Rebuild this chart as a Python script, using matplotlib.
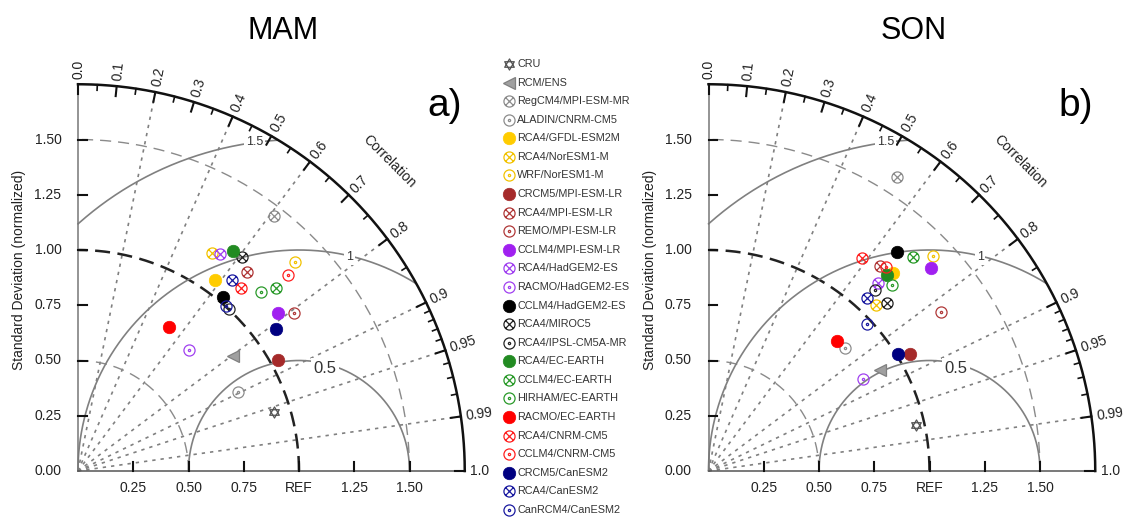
import numpy as np
import matplotlib.pyplot as plt
from matplotlib.path import Path

plt.rcParams['font.family'] = ['Liberation Sans', 'DejaVu Sans']

# ---- data -------------------------------------------------------------
names = ["CRU", "RCM/ENS", "RegCM4/MPI-ESM-MR", "ALADIN/CNRM-CM5", "RCA4/GFDL-ESM2M",
         "RCA4/NorESM1-M", "WRF/NorESM1-M", "CRCM5/MPI-ESM-LR", "RCA4/MPI-ESM-LR",
         "REMO/MPI-ESM-LR", "CCLM4/MPI-ESM-LR", "RCA4/HadGEM2-ES", "RACMO/HadGEM2-ES",
         "CCLM4/HadGEM2-ES", "RCA4/MIROC5", "RCA4/IPSL-CM5A-MR", "RCA4/EC-EARTH",
         "CCLM4/EC-EARTH", "HIRHAM/EC-EARTH", "RACMO/EC-EARTH", "RCA4/CNRM-CM5",
         "CCLM4/CNRM-CM5", "CRCM5/CanESM2", "RCA4/CanESM2", "CanRCM4/CanESM2"]
kinds = ["star", "tri", "x", "dot", "fill", "x", "dot", "fill", "x", "dot", "fill", "x", "dot",
         "fill", "x", "dot", "fill", "x", "dot", "fill", "x", "dot", "fill", "x", "dot"]
colors = ["#555555", "#808080", "#8c8c8c", "#8c8c8c", "#FFCC00", "#F2C200", "#F2C200",
          "#A52A2A", "#B03838", "#B03838", "#A020F0", "#A040F0", "#A040F0",
          "#000000", "#222222", "#222222", "#228B22", "#2A9A2A", "#2A9A2A",
          "#FF0000", "#FF2020", "#FF2020", "#000080", "#1a1aa0", "#1a1aa0"]

# normalized standard deviation and correlation
mam_std = [0.927, 0.873, 1.455, 0.809, 1.064, 1.156, 1.362, 1.038, 1.181, 1.211, 1.154, 1.174,
           0.745, 1.025, 1.221, 1.004, 1.220, 1.219, 1.159, 0.772, 1.107, 1.301, 1.102, 1.111, 1.003]
mam_cor = [0.957, 0.803, 0.610, 0.896, 0.584, 0.523, 0.721, 0.874, 0.646, 0.807, 0.786, 0.548,
           0.677, 0.642, 0.607, 0.682, 0.576, 0.735, 0.714, 0.534, 0.665, 0.732, 0.811, 0.626, 0.666]
son_std = [0.962, 0.901, 1.581, 0.831, 1.222, 1.066, 1.405, 1.054, 1.210, 1.274, 1.361, 1.147,
           0.814, 1.309, 1.107, 1.113, 1.200, 1.340, 1.181, 0.829, 1.186, 1.223, 1.009, 1.060, 0.977]
son_cor = [0.976, 0.862, 0.539, 0.745, 0.682, 0.710, 0.722, 0.865, 0.641, 0.826, 0.739, 0.670,
           0.858, 0.653, 0.728, 0.677, 0.674, 0.692, 0.702, 0.703, 0.585, 0.657, 0.851, 0.675, 0.733]

corr_major = [0.0, 0.1, 0.2, 0.3, 0.4, 0.5, 0.6, 0.7, 0.8, 0.9, 0.95, 0.99, 1.0]
corr_labels = ["0.0", "0.1", "0.2", "0.3", "0.4", "0.5", "0.6", "0.7", "0.8", "0.9", "0.95", "0.99", "1.0"]
corr_minor = [0.05, 0.15, 0.25, 0.35, 0.45, 0.55, 0.65, 0.75, 0.85,
              0.91, 0.92, 0.93, 0.94, 0.96, 0.97, 0.98]
rays = [0.2, 0.4, 0.6, 0.8, 0.9, 0.95, 0.99]
std_ticks = [0.25, 0.5, 0.75, 1.0, 1.25, 1.5]
x_labels = ["0.25", "0.50", "0.75", "REF", "1.25", "1.50"]
y_labels = ["0.25", "0.50", "0.75", "1.00", "1.25", "1.50"]
rms_levels = [0.5, 1.0, 1.5]
rms_text = ["0.5", "1", "1.5"]
rms_pos = [(1.118, 0.466), (1.229, 0.970), (0.80, 1.49)]
rms_size = [12, 9, 9]

RMAX = 1.75

# ---- markers ---------------------------------------------------------
circ = Path.unit_circle()
s = 0.7071
cross = Path([[-s, -s], [s, s], [-s, s], [s, -s]],
             [Path.MOVETO, Path.LINETO, Path.MOVETO, Path.LINETO])
circ_x = Path.make_compound_path(circ, cross)
dot = Path(Path.unit_circle().vertices * 0.2, Path.unit_circle().codes)
circ_dot = Path.make_compound_path(circ, dot)
a_up = np.radians([90, 210, 330, 90])
a_dn = np.radians([270, 30, 150, 270])
tri_up = Path(np.column_stack([np.cos(a_up), np.sin(a_up)]),
              [Path.MOVETO, Path.LINETO, Path.LINETO, Path.CLOSEPOLY])
tri_dn = Path(np.column_stack([np.cos(a_dn), np.sin(a_dn)]),
              [Path.MOVETO, Path.LINETO, Path.LINETO, Path.CLOSEPOLY])
hexagram = Path.make_compound_path(tri_up, tri_dn)


def draw_marker(ax, x, y, kind, color):
    if kind == "fill":
        ax.plot(x, y, "o", ms=9, mfc=color, mec=color, mew=0.5)
    elif kind == "x":
        ax.plot(x, y, marker=circ_x, ls="none", ms=8, mfc="none", mec=color, mew=0.9)
    elif kind == "dot":
        ax.plot(x, y, marker=circ_dot, ls="none", ms=8, mfc="none", mec=color, mew=0.9)
    elif kind == "star":
        ax.plot(x, y, marker=hexagram, ls="none", ms=8, mfc="none", mec=color, mew=0.9)
    elif kind == "tri":
        ax.plot(x, y, "<", ms=8, mfc="#a0a0a0", mec=color, mew=0.9)


def taylor(ax, std, cor, title, tag):
    ax.axis("off")
    th = np.linspace(0, np.pi / 2, 400)

    # dotted correlation rays
    for c in rays:
        t = np.arccos(c)
        ax.plot([0, RMAX * np.cos(t)], [0, RMAX * np.sin(t)], color="#808080",
                lw=1.2, ls=(0, (2, 3)))

    # std-dev arcs around origin
    for r in [0.5, 1.5]:
        ax.plot(r * np.cos(th), r * np.sin(th), color="#8a8a8a", lw=1, ls=(0, (8, 5)))
    ax.plot(np.cos(th), np.sin(th), color="#222222", lw=1.8, ls=(0, (6, 3)))

    # centred RMS difference arcs
    phi = np.linspace(0, np.pi, 800)
    for R, lab, pos, fs in zip(rms_levels, rms_text, rms_pos, rms_size):
        x = 1 + R * np.cos(phi)
        y = R * np.sin(phi)
        ok = (x >= 0) & (x ** 2 + y ** 2 <= RMAX ** 2)
        ax.plot(np.where(ok, x, np.nan), np.where(ok, y, np.nan), color="#808080", lw=1.2)
        ax.text(pos[0], pos[1], lab, fontsize=fs, ha="center", va="center", color="#333333",
                bbox=dict(boxstyle="square,pad=0.15", fc="white", ec="none"))

    # axes and outer arc
    ax.plot([0, 0], [0, RMAX], color="#777777", lw=1.1)
    ax.plot([0, RMAX], [0, 0], color="#555555", lw=1.1)
    ax.plot(RMAX * np.cos(th), RMAX * np.sin(th), color="#111111", lw=1.8)

    for v, lab in zip(std_ticks, y_labels):
        ax.plot([0, 0.04], [v, v], color="#111111", lw=1.5)
        ax.text(-0.075, v, lab, ha="right", va="center", fontsize=10, color="#222222")
    ax.text(-0.075, 0, "0.00", ha="right", va="center", fontsize=10, color="#222222")
    for v, lab in zip(std_ticks, x_labels):
        ax.plot([v, v], [0, 0.04], color="#111111", lw=1.5)
        ax.text(v, -0.045, lab, ha="center", va="top", fontsize=10, color="#222222")

    for c, lab in zip(corr_major, corr_labels):
        t = np.arccos(c)
        ax.plot([(RMAX - 0.045) * np.cos(t), RMAX * np.cos(t)],
                [(RMAX - 0.045) * np.sin(t), RMAX * np.sin(t)], color="#111111", lw=1.5)
        ax.text((RMAX + 0.025) * np.cos(t), (RMAX + 0.025) * np.sin(t), lab,
                rotation=np.degrees(t), rotation_mode="anchor", ha="left", va="center",
                fontsize=10, color="#222222")
    for c in corr_minor:
        t = np.arccos(c)
        ax.plot([(RMAX - 0.025) * np.cos(t), RMAX * np.cos(t)],
                [(RMAX - 0.025) * np.sin(t), RMAX * np.sin(t)], color="#111111", lw=1.2)

    ax.text(1.41, 1.40, "Correlation", rotation=-45, ha="center", va="center",
            fontsize=10, color="#222222")
    ax.text(-0.265, 0.91, "Standard Deviation (normalized)", rotation=90,
            ha="center", va="center", fontsize=10, color="#222222")
    ax.text(0.93, 1.99, title, ha="center", va="center", fontsize=22)
    ax.text(1.66, 1.65, tag, ha="center", va="center", fontsize=28)

    # models
    for sd, cc, k, col in zip(std, cor, kinds, colors):
        t = np.arccos(cc)
        draw_marker(ax, sd * np.cos(t), sd * np.sin(t), k, col)


fig = plt.figure(figsize=(11.3, 5.18), dpi=100)
W, H = 1130.0, 518.0
ax1 = fig.add_axes([0, 0, 500 / W, 1])
ax1.set_xlim(-78 / 221, 422 / 221)
ax1.set_ylim(-47 / 221, 471 / 221)
ax2 = fig.add_axes([630 / W, 0, 500 / W, 1])
ax2.set_xlim(-78.5 / 221, 421.5 / 221)
ax2.set_ylim(-47 / 221, 471 / 221)

taylor(ax1, mam_std, mam_cor, "MAM", "a)")
taylor(ax2, son_std, son_cor, "SON", "b)")

# legend in the middle
axl = fig.add_axes([500 / W, 0, 160 / W, 1])
axl.set_xlim(0, 160)
axl.set_ylim(518, 0)
axl.axis("off")
rows = np.arange(len(names))
for i, (nm, k, col) in enumerate(zip(names, kinds, colors)):
    yy = 64 + rows[i] * 18.58
    draw_marker(axl, 8.5, yy, k, col)
    axl.text(17, yy, nm, ha="left", va="center", fontsize=7.8, color="#333333")

fig.savefig("out.png", dpi=100)
